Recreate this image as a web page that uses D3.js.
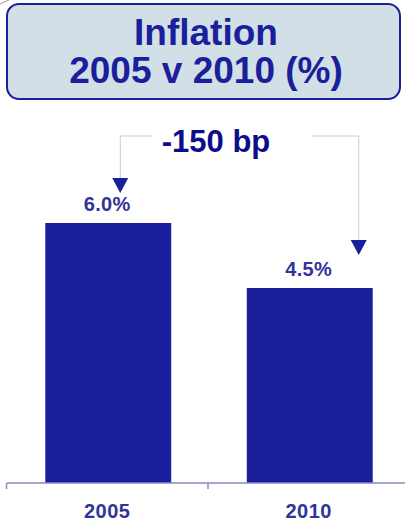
<!DOCTYPE html>
<html>
<head>
<meta charset="utf-8">
<script src="https://cdn.jsdelivr.net/npm/d3@7"></script>
<style>
  body { margin: 0; background: #fff; }
  text { font-family: "Liberation Sans", Arial, sans-serif; font-weight: bold; }
</style>
</head>
<body>
<div id="chart"></div>
<script>
// data
var years = ["2005", "2010"];
var inflation = [6.0, 4.5];
var valueLabels = ["6.0%", "4.5%"];
var titleLines = ["Inflation", "2005 v 2010 (%)"];
var changeLabel = "-150 bp";

var W = 405, H = 524;
var baseY = 483;

var svg = d3.select("#chart").append("svg")
  .attr("width", W)
  .attr("height", H);

// title box
svg.append("line")
  .attr("x1", 0).attr("y1", 4).attr("x2", 9).attr("y2", 0)
  .attr("stroke", "#999").attr("stroke-width", 1);

svg.append("rect")
  .attr("x", 7).attr("y", 4)
  .attr("width", 393).attr("height", 95)
  .attr("rx", 12).attr("ry", 12)
  .attr("fill", "#d3dfe6")
  .attr("stroke", "#1a1f9c")
  .attr("stroke-width", 2);

svg.selectAll(".title")
  .data(titleLines).enter()
  .append("text")
  .attr("class", "title")
  .attr("x", 206)
  .attr("y", function(d, i){ return 45 + i * 38 })
  .attr("text-anchor", "middle")
  .attr("font-size", 37)
  .attr("fill", "#1a1f9c")
  .text(function(d){ return d });

// scales
var x = d3.scaleBand()
  .domain(years)
  .range([7, 411])
  .paddingInner(0.375)
  .paddingOuter(0.19);

var y = d3.scaleLinear()
  .domain([0, 6])
  .range([baseY, 223]);

// bars
svg.selectAll(".bar")
  .data(inflation).enter()
  .append("rect")
  .attr("class", "bar")
  .attr("x", function(d, i){ return x(years[i]) })
  .attr("y", function(d){ return y(d) })
  .attr("width", x.bandwidth())
  .attr("height", function(d){ return baseY - y(d) })
  .attr("fill", "#1a1f9c");

// axis
var ax = svg.append("g");
ax.append("line")
  .attr("x1", 7).attr("x2", W)
  .attr("y1", baseY).attr("y2", baseY)
  .attr("stroke", "#8888c8").attr("stroke-width", 1.5);
ax.selectAll(".tick")
  .data(years).enter()
  .append("line")
  .attr("x1", function(d){ return x(d) - x.step() * x.paddingInner() / 2 - 1 })
  .attr("x2", function(d){ return x(d) - x.step() * x.paddingInner() / 2 - 1 })
  .attr("y1", baseY).attr("y2", baseY + 6)
  .attr("stroke", "#8888c8").attr("stroke-width", 1.5);

svg.selectAll(".cat")
  .data(years).enter()
  .append("text")
  .attr("x", function(d){ return x(d) + x.bandwidth() / 2 - 1 })
  .attr("y", 518)
  .attr("text-anchor", "middle")
  .attr("font-size", 20)
  .attr("letter-spacing", 0.5)
  .attr("fill", "#333399")
  .text(function(d){ return d });

// value labels
svg.selectAll(".val")
  .data(inflation).enter()
  .append("text")
  .attr("x", function(d, i){ return x(years[i]) + x.bandwidth() / 2 - 1 })
  .attr("y", function(d){ return y(d) - 12 })
  .attr("text-anchor", "middle")
  .attr("font-size", 20)
  .attr("letter-spacing", 0.3)
  .attr("fill", "#333399")
  .text(function(d, i){ return valueLabels[i] });

// change annotation
svg.append("text")
  .attr("x", 216).attr("y", 152)
  .attr("text-anchor", "middle")
  .attr("font-size", 31)
  .attr("fill", "#0d0d8c")
  .text(changeLabel);

var lx1 = x(years[0]) + x.bandwidth() / 2 + 12;
var lx2 = x(years[1]) + x.bandwidth() / 2 + 49;
var tipY = [y(inflation[0]) - 30, y(inflation[1]) - 33];

svg.append("path")
  .attr("d", "M153,136H" + lx1 + "V" + (tipY[0] - 15))
  .attr("fill", "none").attr("stroke", "#c8c8e8").attr("stroke-width", 1);
svg.append("path")
  .attr("d", "M312,136H" + lx2 + "V" + (tipY[1] - 15))
  .attr("fill", "none").attr("stroke", "#c8c8e8").attr("stroke-width", 1);

[[lx1, tipY[0]], [lx2, tipY[1]]].forEach(function(p){
  svg.append("path")
    .attr("d", "M" + (p[0] - 8) + "," + (p[1] - 15) + "L" + (p[0] + 8) + "," + (p[1] - 15) + "L" + p[0] + "," + p[1] + "Z")
    .attr("fill", "#1a1f9c");
});
</script>
</body>
</html>
